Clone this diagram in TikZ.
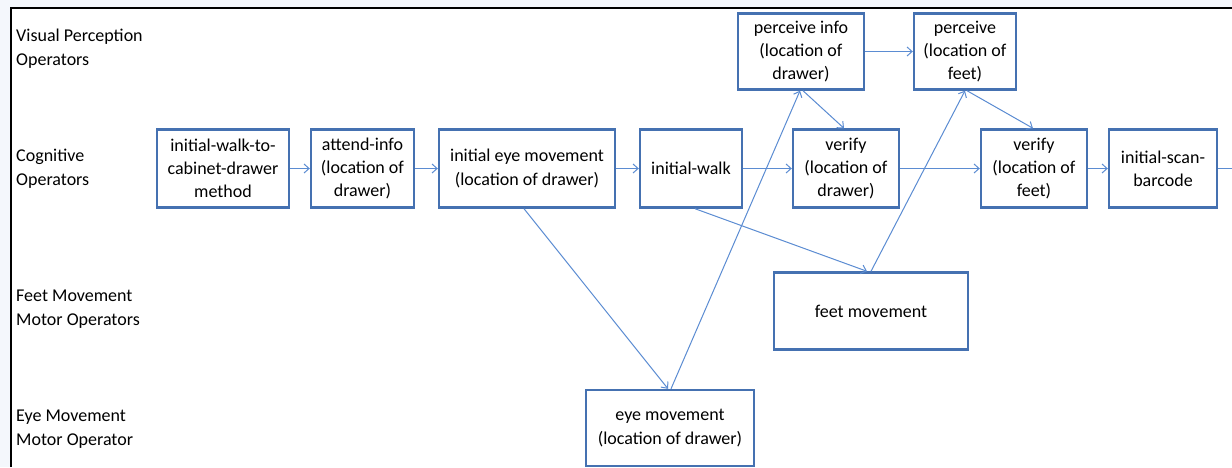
\documentclass[tikz,border=0pt]{standalone}
\usepackage{fontspec}
\setmainfont{Carlito}
\usetikzlibrary{arrows.meta}
\definecolor{boxblue}{HTML}{4571B1}
\definecolor{linkblue}{HTML}{5B8CD2}
\definecolor{paneback}{HTML}{F4F7FC}
\tikzset{
  opbox/.style={draw=boxblue, line width=2.4pt, fill=white, align=center,
    inner sep=0pt, font=\fontsize{18}{23.3}\selectfont},
  rowlabel/.style={anchor=west, align=left, inner sep=0pt,
    font=\fontsize{18}{24}\selectfont},
  link/.style={draw=linkblue, line width=1pt,
    -{Straight Barb[length=5pt,width=9pt]}},
  plainlink/.style={draw=linkblue, line width=1pt}
}
\begin{document}
\begin{tikzpicture}[x=1pt,y=-1pt]
\useasboundingbox (0,0) rectangle (1232,467);
% slide pane and frame
\fill[paneback] (0,0) rectangle (1232,467);
\fill[white] (11,8) rectangle (1232,467);
\draw[black, line width=2.4pt] (11,467) -- (11,8) -- (1232,8);

% row labels
\node[rowlabel] (lvis) at (16,49) {Visual Perception\\Operators};
\node[rowlabel] (lcog) at (16,169) {Cognitive\\Operators};
\node[rowlabel] (lfeet) at (16,309) {Feet Movement\\Motor Operators};
\node[rowlabel] (leye) at (16,429) {Eye Movement\\Motor Operator};

% cognitive operators
\node[opbox, minimum width=132pt, minimum height=78pt] (A) at (223,168.5) {initial-walk-to-\\cabinet-drawer\\method};
\node[opbox, minimum width=103pt, minimum height=78pt] (B) at (362.5,168.5) {attend-info\\(location of\\drawer)};
\node[opbox, minimum width=176pt, minimum height=78pt] (C) at (527,168.5) {initial eye movement\\(location of drawer)};
\node[opbox, minimum width=102pt, minimum height=78pt] (D) at (691,168.5) {initial-walk};
\node[opbox, minimum width=106pt, minimum height=78pt] (E) at (846,168.5) {verify\\(location of\\drawer)};
\node[opbox, minimum width=106pt, minimum height=78pt] (F) at (1034,168.5) {verify\\(location of\\feet)};
\node[opbox, minimum width=108pt, minimum height=78pt] (G) at (1163,168.5) {initial-scan-\\barcode};

% visual perception operators
\node[opbox, minimum width=126pt, minimum height=76pt] (H) at (801,51.5) {perceive info\\(location of\\drawer)};
\node[opbox, minimum width=102pt, minimum height=76pt] (P) at (965,51.5) {perceive\\(location of\\feet)};

% motor operators
\node[opbox, minimum width=194pt, minimum height=77pt] (I) at (871,311) {feet movement};
\node[opbox, minimum width=168pt, minimum height=76pt] (J) at (670,428) {eye movement\\(location of drawer)};

\coordinate (exit) at (1232,168.5);

% sequence of cognitive operators
\draw[link] (A) -- (B);
\draw[link] (B) -- (C);
\draw[link] (C) -- (D);
\draw[link] (D) -- (E);
\draw[link] (E) -- (F);
\draw[link] (F) -- (G);
\draw[plainlink] (G) -- (exit);

% perception chain
\draw[link] (H.east) -- (P.west);
\draw[link] ([xshift=2pt]H.south) -- ([xshift=-2pt]E.north);
\draw[link] ([xshift=2pt]P.south) -- ([xshift=-1pt]F.north);

% eye movement path
\draw[link] ([xshift=-3pt]C.south) -- ([xshift=-2pt]J.north);
\draw[link] ([xshift=1pt]J.north) -- ([xshift=-1pt]H.south);

% feet movement path
\draw[link] ([xshift=4pt]D.south) -- ([xshift=-4pt]I.north);
\draw[link] (I.north) -- (P.south);
\end{tikzpicture}
\end{document}
